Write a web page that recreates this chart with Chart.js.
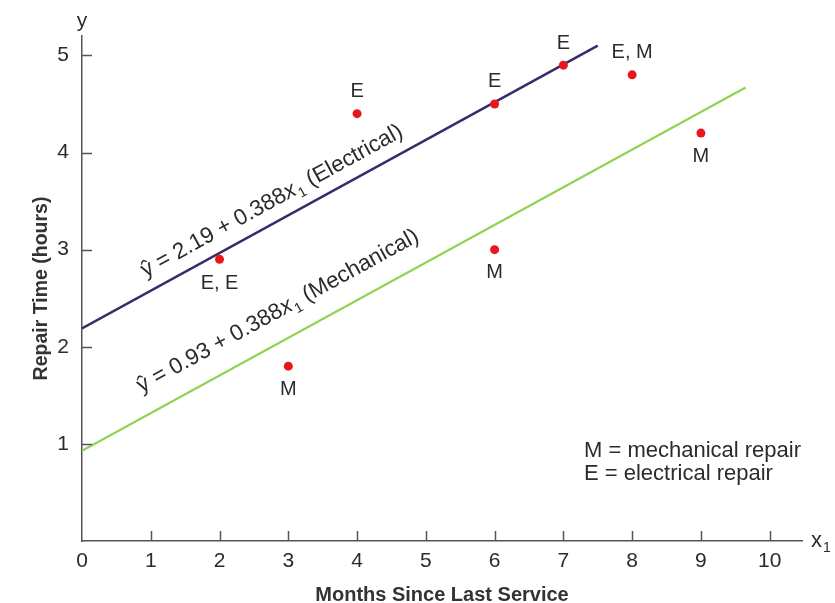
<!DOCTYPE html>
<html>
<head>
<meta charset="utf-8">
<script src="https://cdn.jsdelivr.net/npm/chart.js@4/dist/chart.umd.min.js"></script>
<style>
  html, body { margin: 0; padding: 0; background: #ffffff; }
  #wrap { width: 835px; height: 603px; }
</style>
</head>
<body>
<div id="wrap"><canvas id="c" width="835" height="603"></canvas></div>
<script>
// ---- data ----
const xTickValues = [0, 1, 2, 3, 4, 5, 6, 7, 8, 9, 10];
const yTickValues = [1, 2, 3, 4, 5];
const monthsSinceService = [2, 3, 4, 6, 6, 7, 8, 9];
const repairHours = [2.9, 1.8, 4.4, 3.0, 4.5, 4.9, 4.8, 4.2];
const repairTags = ['E, E', 'M', 'E', 'M', 'E', 'E', 'E, M', 'M'];
const electricalLineX = [0, 7.5];
const electricalLineY = [2.19, 5.10];
const mechanicalLineX = [0, 9.65];
const mechanicalLineY = [0.93, 4.67];
const electricalEquation = ['ŷ = 2.19 + 0.388', 'x', '1', ' (Electrical)'];
const mechanicalEquation = ['ŷ = 0.93 + 0.388', 'x', '1', ' (Mechanical)'];
const legendLines = ['M = mechanical repair', 'E = electrical repair'];
const xAxisTitle = 'Months Since Last Service';
const yAxisTitle = 'Repair Time (hours)';

const FONT = '"Liberation Sans", Arial, Helvetica, sans-serif';
const TEXT = '#2b2b2b';
const AXIS = '#555555';

// label placement (style): above (-) or below (+) the point
const tagOffsets = [24, 23, -22, 23, -22, -22, -22, 23];

const toXY = (xs, ys) => xs.map((x, i) => ({ x: x, y: ys[i] }));

const decorPlugin = {
  id: 'decor',
  afterDraw(chart) {
    const ctx = chart.ctx;
    const xs = chart.scales.x, ys = chart.scales.y;
    const area = chart.chartArea;
    ctx.save();
    // inward tick marks
    ctx.strokeStyle = AXIS;
    ctx.lineWidth = 1.5;
    xTickValues.forEach(v => {
      if (v === 0) return;
      const px = Math.round(xs.getPixelForValue(v)) + 0.5;
      ctx.beginPath();
      ctx.moveTo(px, area.bottom);
      ctx.lineTo(px, area.bottom - 10);
      ctx.stroke();
    });
    yTickValues.forEach(v => {
      const py = Math.round(ys.getPixelForValue(v)) + 0.5;
      ctx.beginPath();
      ctx.moveTo(area.left, py);
      ctx.lineTo(area.left + 10, py);
      ctx.stroke();
    });

    // point tags
    ctx.fillStyle = TEXT;
    ctx.font = '20px ' + FONT;
    ctx.textAlign = 'center';
    ctx.textBaseline = 'middle';
    monthsSinceService.forEach((m, i) => {
      const px = xs.getPixelForValue(m);
      const py = ys.getPixelForValue(repairHours[i]);
      ctx.fillText(repairTags[i], px, py + tagOffsets[i]);
    });

    // axis end labels
    ctx.font = '21px ' + FONT;
    ctx.textAlign = 'center';
    ctx.textBaseline = 'alphabetic';
    ctx.fillText('y', area.left, 27);
    ctx.font = '22px ' + FONT;
    ctx.textAlign = 'left';
    ctx.fillText('x', area.right + 9, area.bottom + 6);
    ctx.font = '14px ' + FONT;
    ctx.fillText('1', area.right + 21, area.bottom + 11);

    // legend text
    ctx.font = '22px ' + FONT;
    ctx.textAlign = 'left';
    ctx.textBaseline = 'alphabetic';
    ctx.fillText(legendLines[0], 584, 457);
    ctx.fillText(legendLines[1], 584, 480);

    // equations
    const drawEq = (lx, ly, startX, offset, parts) => {
      const p0x = xs.getPixelForValue(lx[0]), p0y = ys.getPixelForValue(ly[0]);
      const p1x = xs.getPixelForValue(lx[1]), p1y = ys.getPixelForValue(ly[1]);
      const ang = Math.atan2(p1y - p0y, p1x - p0x);
      const sx = xs.getPixelForValue(startX);
      const sy = p0y + (sx - p0x) * (p1y - p0y) / (p1x - p0x);
      ctx.save();
      ctx.translate(sx, sy);
      ctx.rotate(ang);
      ctx.fillStyle = TEXT;
      ctx.textAlign = 'left';
      ctx.textBaseline = 'alphabetic';
      let cx = 0;
      ctx.font = '22.5px ' + FONT;
      ctx.fillText(parts[0], cx, -offset);
      cx += ctx.measureText(parts[0]).width;
      ctx.font = 'italic 22.5px ' + FONT;
      ctx.fillText(parts[1], cx, -offset);
      cx += ctx.measureText(parts[1]).width;
      ctx.font = '14px ' + FONT;
      ctx.fillText(parts[2], cx + 1, -offset + 5);
      cx += ctx.measureText(parts[2]).width + 1;
      ctx.font = '22.5px ' + FONT;
      ctx.fillText(parts[3], cx, -offset);
      ctx.restore();
    };
    drawEq(electricalLineX, electricalLineY, 1.02, 14, electricalEquation);
    drawEq(mechanicalLineX, mechanicalLineY, 1.02, 22, mechanicalEquation);

    ctx.restore();
  }
};

new Chart(document.getElementById('c'), {
  type: 'scatter',
  data: {
    datasets: [
      {
        label: 'Electrical fit',
        data: toXY(electricalLineX, electricalLineY),
        showLine: true,
        borderColor: '#3b2a6b',
        borderWidth: 2.5,
        pointRadius: 0,
        fill: false,
        order: 2
      },
      {
        label: 'Mechanical fit',
        data: toXY(mechanicalLineX, mechanicalLineY),
        showLine: true,
        borderColor: '#8fd452',
        borderWidth: 2.2,
        pointRadius: 0,
        fill: false,
        order: 2
      },
      {
        label: 'Repairs',
        data: toXY(monthsSinceService, repairHours),
        pointRadius: 4.5,
        pointBackgroundColor: '#e8171d',
        pointBorderColor: '#e8171d',
        pointBorderWidth: 0,
        order: 1
      }
    ]
  },
  options: {
    responsive: false,
    animation: false,
    devicePixelRatio: 1,
    layout: { padding: { top: 36, right: 33, left: 0, bottom: 0 } },
    plugins: {
      legend: { display: false },
      tooltip: { enabled: false },
      title: { display: false }
    },
    scales: {
      x: {
        type: 'linear',
        min: 0,
        max: 10.47,
        afterBuildTicks: s => { s.ticks = xTickValues.map(v => ({ value: v })); },
        afterFit: s => { s.height = 62; },
        grid: { display: false },
        border: { display: true, color: AXIS, width: 1.5 },
        ticks: {
          color: TEXT,
          font: { family: FONT, size: 21 },
          padding: 0,
          maxRotation: 0,
          autoSkip: false
        },
        title: {
          display: true,
          text: xAxisTitle,
          color: '#333333',
          font: { family: FONT, size: 20, weight: 'bold', lineHeight: 0.8 },
          padding: { top: 0, bottom: 0 }
        }
      },
      y: {
        type: 'linear',
        min: 0,
        max: 5.2,
        afterBuildTicks: s => { s.ticks = yTickValues.map(v => ({ value: v })); },
        afterFit: s => { s.width = 82; },
        grid: { display: false },
        border: { display: true, color: AXIS, width: 1.5 },
        ticks: {
          color: TEXT,
          font: { family: FONT, size: 21 },
          padding: 5
        },
        title: {
          display: true,
          text: yAxisTitle,
          color: '#333333',
          font: { family: FONT, size: 19.5, weight: 'bold' },
          padding: { top: 30, bottom: 0 }
        }
      }
    }
  },
  plugins: [decorPlugin]
});
</script>
</body>
</html>
